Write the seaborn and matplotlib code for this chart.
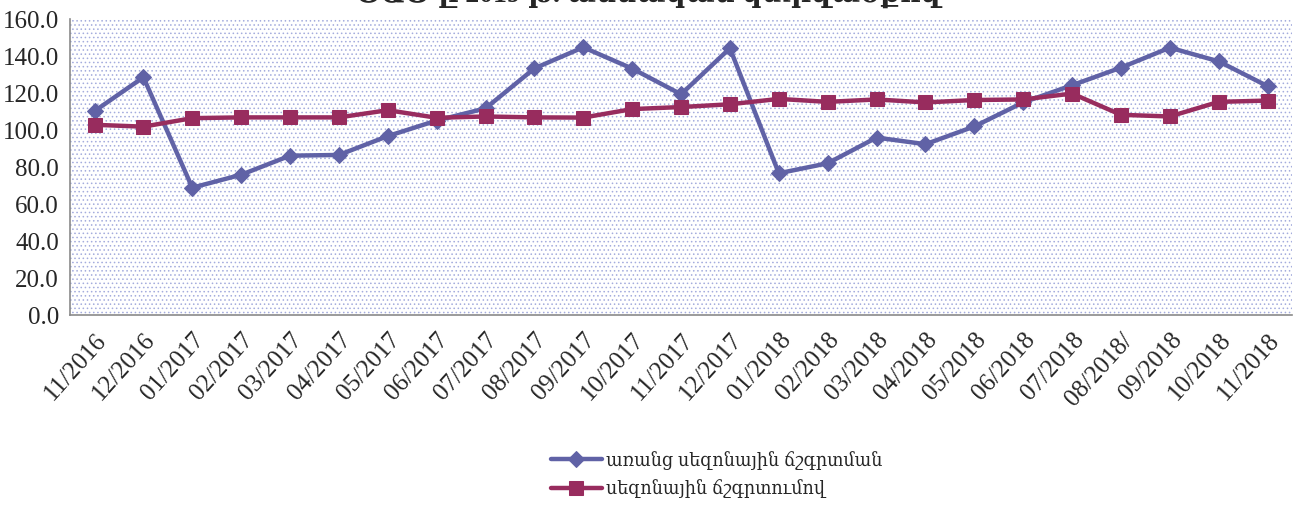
import pandas as pd
import seaborn as sns
import matplotlib.pyplot as plt
from matplotlib.patches import Rectangle
from matplotlib.ticker import FixedLocator

# Monthly index values
months = ["11/2016", "12/2016", "01/2017", "02/2017", "03/2017", "04/2017", "05/2017",
          "06/2017", "07/2017", "08/2017", "09/2017", "10/2017", "11/2017", "12/2017",
          "01/2018", "02/2018", "03/2018", "04/2018", "05/2018", "06/2018", "07/2018",
          "08/2018/", "09/2018", "10/2018", "11/2018"]

not_adjusted = [110.3, 128.6, 68.9, 75.9, 86.2, 86.6, 96.8, 105.2, 111.8, 133.4, 144.8,
                133.3, 119.4, 144.3, 76.7, 82.1, 96.0, 92.4, 102.0, 115.0, 124.3,
                133.8, 144.6, 137.2, 123.8]

adjusted = [102.9, 101.9, 106.5, 106.9, 106.9, 106.9, 110.8, 106.7, 107.4, 106.9, 106.8,
            111.4, 112.5, 114.0, 116.9, 115.3, 116.6, 115.0, 116.3, 116.6, 119.8,
            108.3, 107.4, 115.3, 116.0]

label_raw = "առանց սեզոնային ճշգրտման"
label_adj = "սեզոնային ճշգրտումով"
title = "ՏԱՑ-ը 2019 թ. ամսական կտրվածքով"

blue = "#6062A6"
red = "#982C5E"

sns.set_style("white")
serif = ["Liberation Serif", "DejaVu Serif"]
plt.rcParams["font.family"] = serif
plt.rcParams["hatch.color"] = "#A4ACDD"
plt.rcParams["hatch.linewidth"] = 0.6

df = pd.DataFrame({"month": months, "raw": not_adjusted, "adj": adjusted})

fig = plt.figure(figsize=(12.98, 5.05), dpi=100)
ax = fig.add_axes([0.054, 0.376, 0.9414, 0.586])

# dotted plot-area background
ax.add_patch(Rectangle((0, 0), 1, 1, transform=ax.transAxes, facecolor="white",
                       edgecolor="#A4ACDD", hatch="....", linewidth=0, zorder=0))

sns.lineplot(data=df, x="month", y="raw", ax=ax, color=blue, linewidth=3.2,
             marker="D", markersize=8, markeredgecolor=blue, sort=False,
             label=label_raw, legend=False, zorder=3)
sns.lineplot(data=df, x="month", y="adj", ax=ax, color=red, linewidth=3.2,
             marker="s", markersize=9.5, markeredgecolor=red, sort=False,
             label=label_adj, legend=False, zorder=4)

ax.set_xlim(-0.5, len(months) - 0.5)
ax.set_ylim(0, 160)
ax.set_yticks(range(0, 161, 20))
ax.set_yticklabels([f"{v:.1f}" for v in range(0, 161, 20)], fontsize=18,
                   family="Liberation Serif")
ax.set_xticks(range(len(months)))
ax.set_xticklabels(months, rotation=48, ha="right", rotation_mode="anchor", fontsize=18,
                   family="Liberation Serif")
ax.xaxis.set_minor_locator(FixedLocator([i - 0.5 for i in range(len(months) + 1)]))
ax.tick_params(axis="x", which="major", length=0, pad=10)
ax.tick_params(axis="x", which="minor", length=6, color="#8A8A8A", width=1)
ax.tick_params(axis="y", length=6, color="#8A8A8A", width=1, pad=2)
ax.set_xlabel("")
ax.set_ylabel("")

for s in ["top", "right"]:
    ax.spines[s].set_visible(False)
for s in ["left", "bottom"]:
    ax.spines[s].set_color("#8A8A8A")
    ax.spines[s].set_linewidth(1.2)

# title is partly above the top edge, as in the source image
fig.text(0.5, 0.996, title, ha="center", va="baseline", fontsize=20,
         fontweight="bold", family=serif)

handles, labels = ax.get_legend_handles_labels()
fig.legend(handles, labels, loc="center", bbox_to_anchor=(0.552, 0.06), ncol=1,
           frameon=False, handlelength=2.6, handletextpad=0.2, labelspacing=0.5,
           prop={"family": serif, "size": 14, "stretch": "condensed"})

fig.savefig("out.png", dpi=100)
